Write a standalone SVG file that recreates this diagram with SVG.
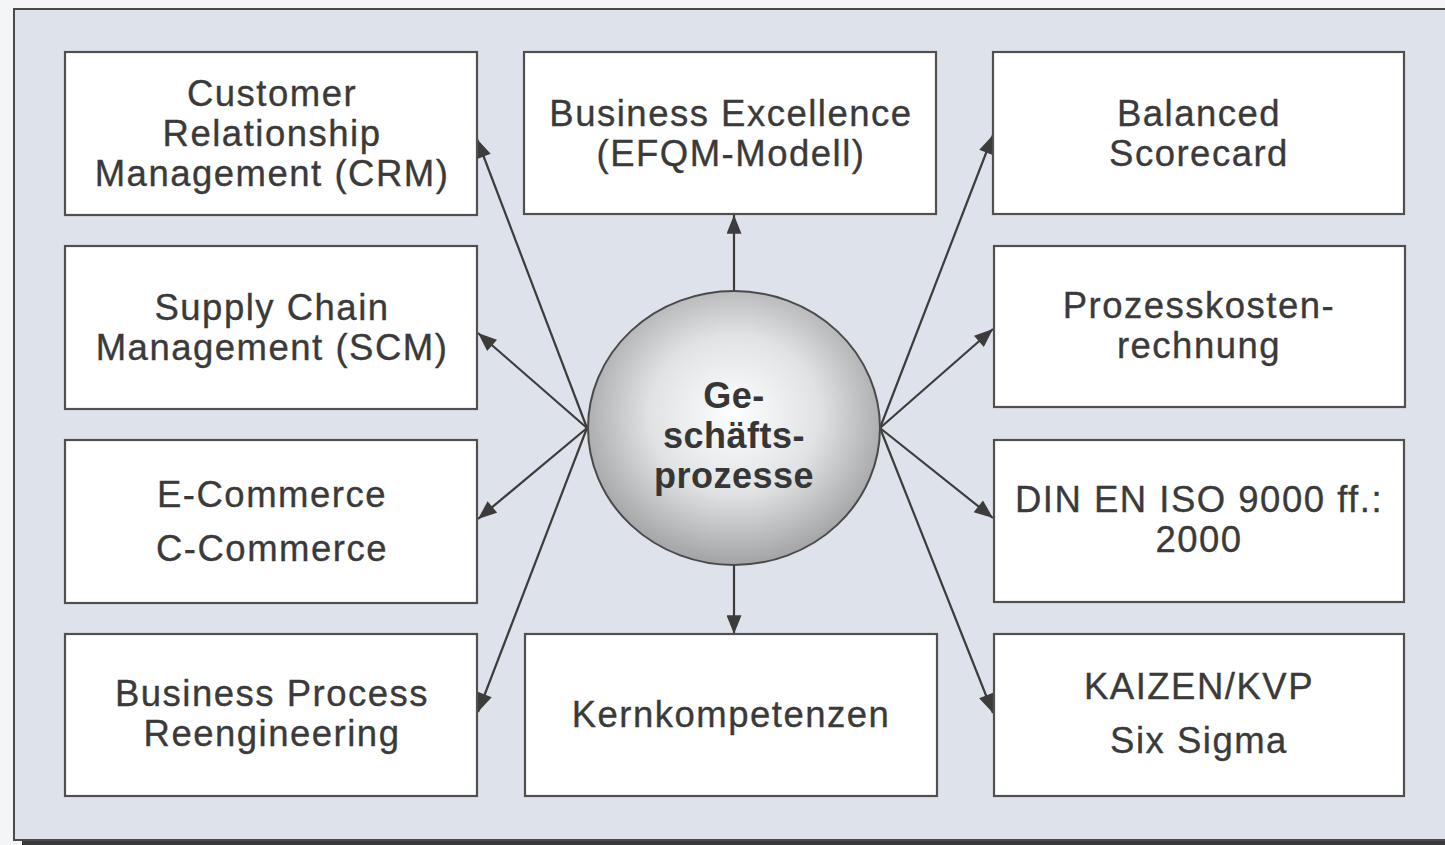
<svg xmlns="http://www.w3.org/2000/svg" width="1445" height="845" viewBox="0 0 1445 845">
<defs>
<style>
.box{fill:#fff;stroke:#505050;stroke-width:2.2}
.t{font-family:"Liberation Sans",Arial,sans-serif;font-size:36.5px;letter-spacing:1.5px;fill:#3a3a3a;stroke:#3a3a3a;stroke-width:0.35;text-anchor:middle}
.c{font-family:"Liberation Sans",Arial,sans-serif;font-size:36px;letter-spacing:0.5px;font-weight:bold;fill:#363636;text-anchor:middle}
.ln{stroke:#3c3c3c;stroke-width:2.2;fill:none;marker-end:url(#ah)}
</style>
<marker id="ah" viewBox="0 0 20 16" refX="20" refY="8" markerWidth="20" markerHeight="15" markerUnits="userSpaceOnUse" orient="auto">
<path d="M0,0 L20,8 L0,16 z" fill="#3c3c3c"/>
</marker>
<radialGradient id="g" cx="50%" cy="45%" r="58%">
<stop offset="0" stop-color="#fdfeff"/>
<stop offset="0.5" stop-color="#e0e2e4"/>
<stop offset="1" stop-color="#9a9c9e"/>
</radialGradient>
</defs>
<rect x="0" y="0" width="1445" height="845" fill="#f4f5f7"/>
<rect x="22" y="840" width="1423" height="5" fill="#3a3a3a"/>
<rect x="14" y="9" width="1440" height="831" fill="#dee2ea" stroke="#4a4a4a" stroke-width="2"/>
<g id="connectors">
<line class="ln" x1="587" y1="428" x2="477" y2="139"/>
<line class="ln" x1="587" y1="428" x2="478" y2="333"/>
<line class="ln" x1="587" y1="428" x2="478" y2="519"/>
<line class="ln" x1="587" y1="428" x2="478" y2="712"/>
<line class="ln" x1="880" y1="428" x2="993" y2="135"/>
<line class="ln" x1="880" y1="428" x2="993" y2="329"/>
<line class="ln" x1="880" y1="428" x2="993" y2="518"/>
<line class="ln" x1="880" y1="428" x2="993" y2="713"/>
<line class="ln" x1="734" y1="292" x2="734" y2="215"/>
<line class="ln" x1="734" y1="565" x2="734" y2="634"/>
</g>
<g id="crm"><rect class="box" x="65" y="52" width="412" height="163"/>
<text class="t" x="272" y="106">Customer</text><text class="t" x="272" y="146">Relationship</text><text class="t" x="272" y="186">Management (CRM)</text></g>
<g id="scm"><rect class="box" x="65" y="246" width="412" height="163"/>
<text class="t" x="272" y="320">Supply Chain</text><text class="t" x="272" y="360">Management (SCM)</text></g>
<g id="ecommerce"><rect class="box" x="65" y="440" width="412" height="163"/>
<text class="t" x="272" y="507">E-Commerce</text><text class="t" x="272" y="561">C-Commerce</text></g>
<g id="bpr"><rect class="box" x="65" y="634" width="412" height="162"/>
<text class="t" x="272" y="706">Business Process</text><text class="t" x="272" y="746">Reengineering</text></g>
<g id="efqm"><rect class="box" x="524" y="52" width="412" height="162"/>
<text class="t" x="731" y="126">Business Excellence</text><text class="t" x="731" y="166">(EFQM-Modell)</text></g>
<g id="kern"><rect class="box" x="525" y="634" width="412" height="162"/>
<text class="t" x="731" y="727">Kernkompetenzen</text></g>
<g id="bsc"><rect class="box" x="993" y="52" width="411" height="162"/>
<text class="t" x="1199" y="126">Balanced</text><text class="t" x="1199" y="166">Scorecard</text></g>
<g id="pkr"><rect class="box" x="994" y="246" width="411" height="161"/>
<text class="t" x="1199" y="318">Prozesskosten-</text><text class="t" x="1199" y="358">rechnung</text></g>
<g id="iso"><rect class="box" x="994" y="440" width="410" height="162"/>
<text class="t" x="1199" y="512">DIN EN ISO 9000 ff.:</text><text class="t" x="1199" y="552">2000</text></g>
<g id="kaizen"><rect class="box" x="994" y="634" width="410" height="162"/>
<text class="t" x="1199" y="699">KAIZEN/KVP</text><text class="t" x="1199" y="753">Six Sigma</text></g>
<g id="center"><ellipse cx="734" cy="428" rx="146" ry="137" fill="url(#g)" stroke="#4a4a4a" stroke-width="2"/>
<text class="c" x="734" y="408">Ge-</text><text class="c" x="734" y="448">schäfts-</text><text class="c" x="734" y="488">prozesse</text></g>
</svg>
